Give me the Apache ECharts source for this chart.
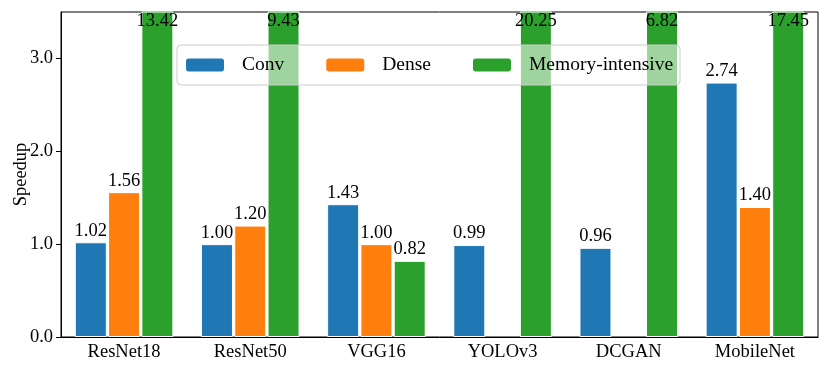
<!DOCTYPE html>
<html>
<head>
<meta charset="utf-8">
<script src="https://cdn.jsdelivr.net/npm/echarts@6/dist/echarts.min.js"></script>
<style>
  html, body { margin: 0; padding: 0; background: #fff; }
  #main { width: 830px; height: 374px; }
</style>
</head>
<body>
<div id="main"></div>
<script>
// 数据
var models = ['ResNet18', 'ResNet50', 'VGG16', 'YOLOv3', 'DCGAN', 'MobileNet'];
var convSpeedup = [1.02, 1.00, 1.43, 0.99, 0.96, 2.74];
var denseSpeedup = [1.56, 1.20, 1.00, null, null, 1.40];
var memorySpeedup = [13.42, 9.43, 0.82, 20.25, 6.82, 17.45];
var yTicks = [0, 1, 2, 3];

var yMax = 3.5;
var font = 'Liberation Serif';
var fs = 18.5;

// 超出坐标轴的柱子，标签放在顶部内侧
function toItems(arr) {
    return arr.map(function (v) {
        if (v == null) return null;
        if (v > yMax) {
            return { value: v, label: { position: 'insideTop', distance: 0 } };
        }
        return v;
    });
}

function makeSeries(name, color, data) {
    return {
        name: name,
        type: 'bar',
        barWidth: 32,
        barGap: '4%',
        clip: true,
        itemStyle: { color: color, borderColor: '#fff', borderWidth: 1 },
        label: {
            show: true,
            position: 'top',
            distance: 2,
            color: '#000',
            fontFamily: font,
            fontSize: fs,
            formatter: function (p) { return p.value.toFixed(2); }
        },
        data: toItems(data)
    };
}

var myChart = echarts.init(document.getElementById('main'));
myChart.setOption({
    animation: false,
    textStyle: { fontFamily: font },
    grid: {
        left: 61, right: 12, top: 12, bottom: 37,
        containLabel: false,
        outerBoundsMode: 'none',
        show: true,
        borderColor: '#000',
        borderWidth: 1
    },
    legend: {
        left: 177,
        top: 45,
        padding: [10, 7],
        itemWidth: 40,
        itemHeight: 15,
        itemGap: 40,
        borderColor: '#ccc',
        borderWidth: 1,
        borderRadius: 4,
        backgroundColor: 'rgba(255,255,255,0.55)',
        textStyle: { fontFamily: font, fontSize: 19.5, color: '#000', padding: [0, 0, 0, 12] },
        data: ['Conv', 'Dense', 'Memory-intensive']
    },
    xAxis: {
        type: 'category',
        data: models,
        axisLine: { lineStyle: { color: '#000', width: 1 } },
        axisTick: { alignWithLabel: true, length: 4, lineStyle: { color: '#000' } },
        axisLabel: { color: '#000', fontFamily: font, fontSize: fs, margin: 6 }
    },
    yAxis: {
        type: 'value',
        min: 0,
        max: yMax,
        interval: 1,
        name: 'Speedup',
        nameLocation: 'middle',
        nameGap: 30,
        nameMoveOverlap: false,
        nameTextStyle: { color: '#000', fontFamily: font, fontSize: fs },
        axisLine: { show: true, lineStyle: { color: '#000', width: 1 } },
        axisTick: { show: true, length: 5, lineStyle: { color: '#000' } },
        axisLabel: {
            color: '#000', fontFamily: font, fontSize: fs, margin: 8,
            showMaxLabel: false,
            formatter: function (v) { return yTicks.indexOf(v) >= 0 ? v.toFixed(1) : ''; }
        },
        splitLine: { show: false }
    },
    series: [
        makeSeries('Conv', '#1f77b4', convSpeedup),
        makeSeries('Dense', '#ff7f0e', denseSpeedup),
        makeSeries('Memory-intensive', '#2ca02c', memorySpeedup)
    ]
});
</script>
</body>
</html>
